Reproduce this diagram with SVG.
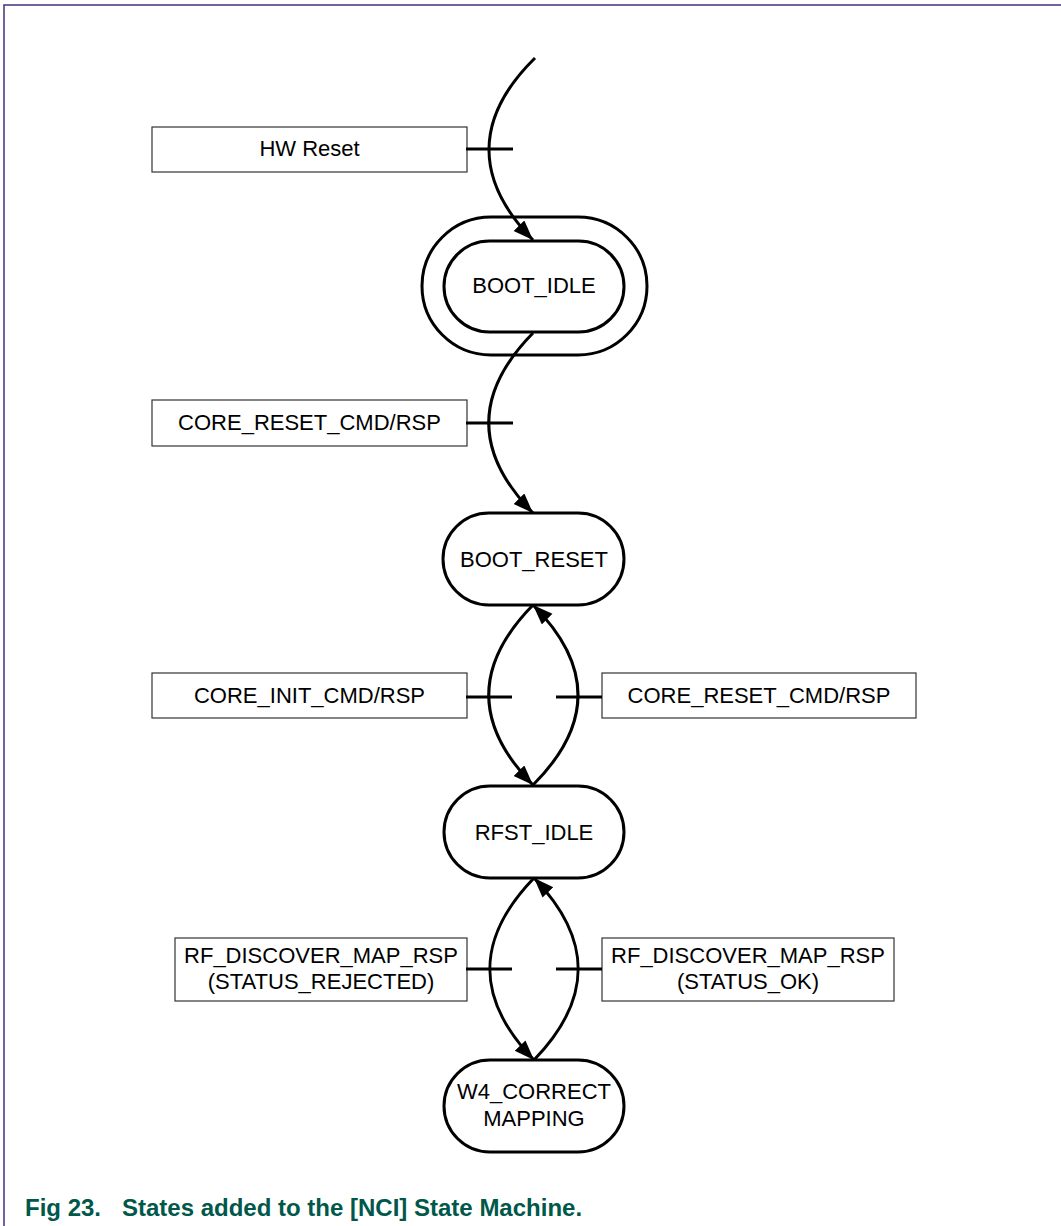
<svg xmlns="http://www.w3.org/2000/svg" width="1061" height="1226" viewBox="0 0 1061 1226">
<style>
.frame{fill:none;stroke:#4B2C7F;stroke-width:1.5}
.state{fill:#fff;stroke:#000;stroke-width:3}
.lbl{fill:#fff;stroke:#333;stroke-width:1.2}
.t{font-family:"Liberation Sans",Arial,sans-serif;font-size:22px;fill:#000;text-anchor:middle}
.edge{fill:none;stroke:#000;stroke-width:3}
.tick{stroke:#000;stroke-width:3}
.cap{font-family:"Liberation Sans",Arial,sans-serif;font-size:24px;font-weight:bold;fill:#00574A}
</style>
<defs>
<marker id="arr" markerUnits="userSpaceOnUse" markerWidth="22" markerHeight="16" refX="20" refY="7.5" orient="auto">
<path d="M0,0 L20,7.5 L0,15 z" fill="#000"/>
</marker>
</defs>
<rect width="1061" height="1226" fill="#fff"/>
<path class="frame" d="M4,1226 L4,5 L1061,5"/>

<g id="lbl-hwreset">
<rect class="lbl" x="152" y="127" width="315" height="45"/>
<text class="t" x="309.5" y="156">HW Reset</text>
</g>
<g id="lbl-core-reset-1">
<rect class="lbl" x="152" y="400" width="315" height="46"/>
<text class="t" x="309.5" y="430">CORE_RESET_CMD/RSP</text>
</g>
<g id="lbl-core-init">
<rect class="lbl" x="152" y="673" width="315" height="45"/>
<text class="t" x="309.5" y="703">CORE_INIT_CMD/RSP</text>
</g>
<g id="lbl-core-reset-2">
<rect class="lbl" x="602" y="673" width="314" height="45"/>
<text class="t" x="759" y="703">CORE_RESET_CMD/RSP</text>
</g>
<g id="lbl-map-rejected">
<rect class="lbl" x="175" y="938" width="292" height="63"/>
<text class="t" x="321" y="963">RF_DISCOVER_MAP_RSP</text>
<text class="t" x="321" y="989">(STATUS_REJECTED)</text>
</g>
<g id="lbl-map-ok">
<rect class="lbl" x="602" y="938" width="292" height="63"/>
<text class="t" x="748" y="963">RF_DISCOVER_MAP_RSP</text>
<text class="t" x="748" y="989">(STATUS_OK)</text>
</g>

<g id="boot-idle">
<rect class="state" x="422" y="217" width="225" height="138" rx="69" ry="69"/>
<rect class="state" x="444" y="241" width="180" height="91" rx="45.5" ry="45.5"/>
<text class="t" x="534" y="293">BOOT_IDLE</text>
</g>
<g id="boot-reset">
<rect class="state" x="443" y="513" width="181" height="92" rx="46" ry="46"/>
<text class="t" x="534" y="567">BOOT_RESET</text>
</g>
<g id="rfst-idle">
<rect class="state" x="444" y="786" width="180" height="92" rx="46" ry="46"/>
<text class="t" x="534" y="840">RFST_IDLE</text>
</g>
<g id="w4-correct-mapping">
<rect class="state" x="444" y="1060" width="180" height="92" rx="46" ry="46"/>
<text class="t" x="534" y="1099">W4_CORRECT</text>
<text class="t" x="534" y="1126">MAPPING</text>
</g>

<g id="connectors">
<path class="edge" d="M535,58 C474,118 474,180 533,240" marker-end="url(#arr)"/>
<line class="tick" x1="466" y1="149" x2="513" y2="149"/>
<path class="edge" d="M533,333 C474,393 474,453 533,513" marker-end="url(#arr)"/>
<line class="tick" x1="466" y1="423" x2="513" y2="423"/>
<path class="edge" d="M533,605 C474,665 474,725 533,785" marker-end="url(#arr)"/>
<path class="edge" d="M533,785 C593,725 593,665 533,605" marker-end="url(#arr)"/>
<line class="tick" x1="466" y1="697" x2="512" y2="697"/>
<line class="tick" x1="556" y1="697" x2="602" y2="697"/>
<path class="edge" d="M534,878 C475,939 475,999 534,1060" marker-end="url(#arr)"/>
<path class="edge" d="M534,1060 C593,999 593,939 534,878" marker-end="url(#arr)"/>
<line class="tick" x1="466" y1="969" x2="512" y2="969"/>
<line class="tick" x1="556" y1="969" x2="602" y2="969"/>
</g>

<text class="cap" y="1216"><tspan x="25">Fig 23.</tspan><tspan x="122">States added to the [NCI] State Machine.</tspan></text>
</svg>
